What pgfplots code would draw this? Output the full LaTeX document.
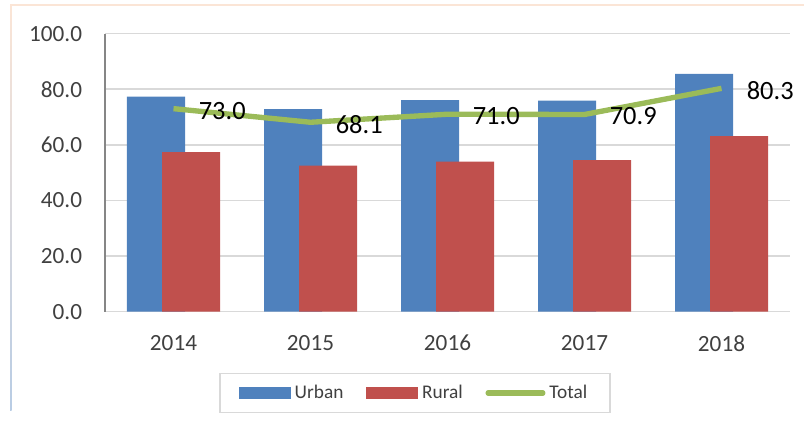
\documentclass[border=0pt]{standalone}
\usepackage{pgfplots}
\pgfplotsset{compat=1.18}
\usepackage{fontspec}
\setmainfont{Carlito}
\definecolor{cUrban}{HTML}{4F81BD}
\definecolor{cRural}{HTML}{C0504D}
\definecolor{cTotal}{HTML}{9BBB59}
\definecolor{cGrid}{HTML}{D9D9D9}
\definecolor{cText}{HTML}{404040}
\begin{document}
\begin{tikzpicture}
\useasboundingbox (0,0) rectangle (603pt,320.25pt);
% light frame of the chart area
\draw[color={rgb,255:red,251;green,229;blue,214}, line width=1.2pt] (7.5pt,316.5pt) -- (603pt,316.5pt);
\shade[top color={rgb,255:red,251;green,229;blue,214}, bottom color={rgb,255:red,184;green,204;blue,228}] (7.5pt,12pt) rectangle (8.7pt,316.5pt);
\begin{axis}[
  at={(78.75pt,86.55pt)}, anchor=south west,
  scale only axis, width=513.75pt, height=208.5pt,
  xmin=-0.5, xmax=4.5, ymin=0, ymax=100,
  xtick={0,1,2,3,4}, xticklabels={2014,2015,2016,2017,2018},
  ytick={0,20,40,60,80,100},
  axis x line*=bottom, axis y line*=left,
  x axis line style={draw=cGrid, line width=1.3pt, -},
  y axis line style={draw={rgb,255:red,134;green,134;blue,134}, line width=1.1pt, -},
  major tick length=0pt,
  ymajorgrids, grid style={draw=cGrid, line width=1.1pt},
  tick label style={font=\fontsize{17.4}{20}\selectfont, text=cText},
  yticklabel style={inner sep=0pt, xshift=-17pt},
  xticklabel style={inner sep=0pt, yshift=-17.5pt},
  /pgf/number format/assume math mode=true,
  yticklabel={\pgfmathprintnumber[fixed, fixed zerofill, precision=1]{\tick}},
  legend columns=3,
  legend style={at={(0.4526,-0.2928)}, anchor=center, draw=cGrid, line width=1.1pt,
    font=\fontsize{14.5}{17}\selectfont, text=cText,
    inner xsep=14pt, inner ysep=7pt,
    /tikz/every even column/.append style={column sep=14pt},
    nodes={inner xsep=3pt}},
  clip=false,
]
\addplot[ybar, bar width=43.5pt, bar shift=-13.125pt, fill=cUrban, draw=none,
  legend image code/.code={\fill[cUrban] (0pt,-4.5pt) rectangle (39pt,4.5pt);}]
  coordinates {(0,77.3) (1,72.8) (2,76.1) (3,75.9) (4,85.5)};
\addlegendentry{Urban}
\addplot[ybar, bar width=43.5pt, bar shift=13.125pt, fill=cRural, draw=none,
  legend image code/.code={\fill[cRural] (0pt,-4.5pt) rectangle (39pt,4.5pt);}]
  coordinates {(0,57.4) (1,52.5) (2,53.9) (3,54.5) (4,63.1)};
\addlegendentry{Rural}
\addplot[cTotal, line width=4pt, line join=round, mark=none,
  nodes near coords={\pgfmathprintnumber[fixed, fixed zerofill, precision=1]{\pgfplotspointmeta}},
  nodes near coords align={horizontal},
  every node near coord/.append style={anchor=west, inner sep=0pt, xshift=17pt, yshift=-1.5pt,
     font=\fontsize{19.8}{22}\selectfont, text=black},
  legend image code/.code={\draw[cTotal, line width=4pt, line cap=round] (0pt,0pt) -- (41pt,0pt);}]
  coordinates {(0,73.0) (1,68.1) (2,71.0) (3,70.9) (4,80.3)};
\addlegendentry{Total}
\end{axis}
\end{tikzpicture}
\end{document}
